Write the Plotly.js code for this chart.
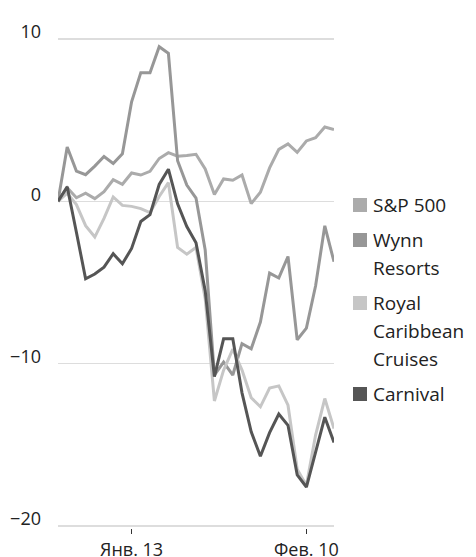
<!DOCTYPE html>
<html>
<head>
<meta charset="utf-8">
<script src="https://cdn.plot.ly/plotly-3.0.1.min.js"></script>
<style>
  html, body { margin: 0; padding: 0; background: #fff; }
  #chart { width: 476px; height: 557px; }
</style>
</head>
<body>
<div id="chart"></div>
<script>
// Trading days (categories)
const dates = [
  "2019-12-31","2020-01-02","2020-01-03","2020-01-06","2020-01-07","2020-01-08",
  "2020-01-09","2020-01-10","2020-01-13","2020-01-14","2020-01-15","2020-01-16",
  "2020-01-17","2020-01-21","2020-01-22","2020-01-23","2020-01-24","2020-01-27",
  "2020-01-28","2020-01-29","2020-01-30","2020-01-31","2020-02-03","2020-02-04",
  "2020-02-05","2020-02-06","2020-02-07","2020-02-10","2020-02-11","2020-02-12",
  "2020-02-13"
];

// Percent change since first day
const sp500 = [0, 0.84, 0.22, 0.5, 0.17, 0.6, 1.33, 1.05, 1.75, 1.62, 1.85, 2.64, 3.0, 2.78, 2.82, 2.9,
  2.0, 0.42, 1.38, 1.3, 1.62, -0.14, 0.56, 2.06, 3.2, 3.54, 3.02, 3.72, 3.92, 4.58, 4.42];
const wynn = [0, 3.35, 1.86, 1.64, 2.17, 2.76, 2.33, 2.93, 6.13, 7.93, 7.93, 9.53, 9.12, 2.5, 1.0, 0.2,
  -3.0, -10.7, -9.9, -10.7, -8.77, -9.08, -7.44, -4.42, -4.72, -3.4, -8.53, -7.81, -5.2, -1.51, -3.72];
const royal = [0, 0.5, -0.2, -1.5, -2.2, -1.05, 0.27, -0.25, -0.31, -0.45, -0.7, 0.3, 1.15, -2.84, -3.25, -2.84,
  -6.0, -12.3, -10.4, -9.1, -10.4, -12.1, -12.66, -11.5, -11.37, -12.56, -16.5, -17.5, -14.4, -12.15, -14.0];
const carnival = [0, 0.9, -1.9, -4.77, -4.48, -4.05, -3.23, -3.85, -2.9, -1.24, -0.82, 1.04, 1.98, -0.15, -1.55, -2.55,
  -5.5, -10.8, -8.47, -8.47, -11.8, -14.2, -15.7, -14.25, -13.1, -13.8, -16.85, -17.6, -15.45, -13.3, -14.85];

// Tick labels
const xTickVals = ["2020-01-13", "2020-02-10"];
const xTickText = ["Янв. 13", "Фев. 10"];
const yTickVals = [-20, -10, 0, 10];

// Legend entries (lines of text per entry)
const seriesNames = [["S&P 500"], ["Wynn", "Resorts"], ["Royal", "Caribbean", "Cruises"], ["Carnival"]];
const seriesData = [sp500, wynn, royal, carnival];
const seriesColors = ["#ababab", "#979797", "#c6c6c6", "#555555"];

const FONT = "'Open Sans', 'Noto Sans', sans-serif";

// plot area in pixels
const L = 58, R = 334, T = 37, B = 528;
const W = 476, H = 557;
const px2x = p => (p - L) / (R - L);
const px2y = p => (B - p) / (B - T);

const traces = seriesData.map((d, i) => ({
  x: dates,
  y: d,
  type: "scatter",
  mode: "lines",
  name: seriesNames[i].join(" "),
  line: { color: seriesColors[i], width: 3 },
  showlegend: false,
  hoverinfo: "skip"
}));

// Custom legend: squares + text lines
const legendTop = 205, itemGap = 35, lineGap = 28;
const shapes = [];
const annotations = [];
let yPos = legendTop;
seriesNames.forEach((lines, i) => {
  shapes.push({
    type: "rect", xref: "paper", yref: "paper",
    x0: px2x(353), x1: px2x(367),
    y0: px2y(yPos + 7), y1: px2y(yPos - 7),
    fillcolor: seriesColors[i], line: { width: 0 }
  });
  lines.forEach((t, j) => {
    annotations.push({
      xref: "paper", yref: "paper",
      x: px2x(371), y: px2y(yPos + j * lineGap),
      xanchor: "left", yanchor: "middle",
      text: t, showarrow: false,
      font: { family: FONT, size: 19, color: "#222" }
    });
  });
  yPos += (lines.length - 1) * lineGap + itemGap;
});

const layout = {
  width: W, height: H,
  margin: { l: L, r: W - R, t: T, b: H - B, pad: 0 },
  paper_bgcolor: "#fff",
  plot_bgcolor: "#fff",
  showlegend: false,
  font: { family: FONT, size: 18, color: "#222" },
  xaxis: {
    type: "category",
    range: [0, dates.length - 1],
    tickmode: "array",
    tickvals: xTickVals,
    ticktext: xTickText,
    ticks: "outside",
    ticklen: 5,
    tickwidth: 1.3,
    tickcolor: "#333",
    ticklabelstandoff: 0,
    showgrid: false,
    showline: false,
    zeroline: false,
    tickfont: { family: FONT, size: 18, color: "#222" },
    fixedrange: true
  },
  yaxis: {
    range: [-20.125, 10.125],
    tickmode: "array",
    tickvals: yTickVals,
    ticks: "",
    showgrid: true,
    gridcolor: "#dddddd",
    gridwidth: 1.5,
    zeroline: false,
    showline: false,
    ticklabelstandoff: 16,
    ticklabelshift: -7,
    tickfont: { family: FONT, size: 18, color: "#222" },
    fixedrange: true
  },
  shapes: shapes,
  annotations: annotations
};

Plotly.newPlot("chart", traces, layout, { displayModeBar: false, staticPlot: true });
</script>
</body>
</html>
